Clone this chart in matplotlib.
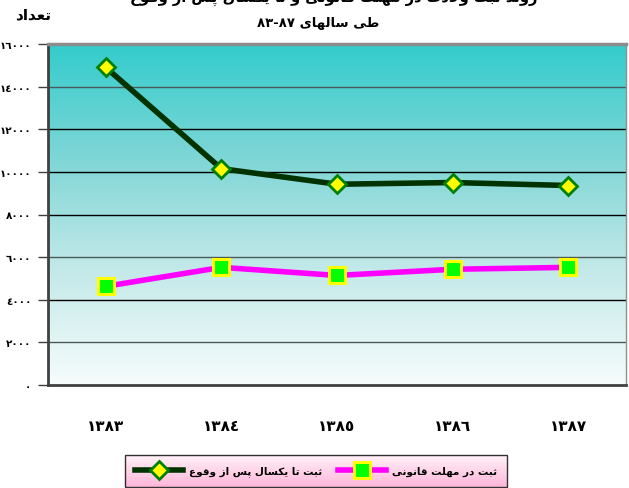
import re
import numpy as np
import matplotlib
matplotlib.use("Agg")
import matplotlib.pyplot as plt
from matplotlib.colors import LinearSegmentedColormap

years = ["١٣٨٣", "١٣٨٤", "١٣٨٥", "١٣٨٦", "١٣٨٧"]
late_year = [14900, 10150, 9420, 9500, 9360]      # ثبت تا یکسال پس از وقوع
in_time = [4630, 5520, 5140, 5430, 5520]         # ثبت در مهلت قانونی
yticks = [0, 2000, 4000, 6000, 8000, 10000, 12000, 14000, 16000]
ytick_labels = ["٠", "٢٠٠٠", "٤٠٠٠", "٦٠٠٠", "٨٠٠٠", "١٠٠٠٠", "١٢٠٠٠", "١٤٠٠٠", "١٦٠٠٠"]

label_late = "ثبت تا یکسال پس از وقوع"
label_in = "ثبت در مهلت قانونی"
title_top = "روند ثبت ولادت در مهلت قانونی و تا یکسال پس از وقوع"
title_sub = "طی سالهای ٨٧-٨٣"
ylabel = "تعداد"

# minimal arabic/persian shaping (matplotlib has no bidi/joining)
FORMS = {
    "ب": (0xFE8F, 0xFE90, 0xFE91, 0xFE92), "ت": (0xFE95, 0xFE96, 0xFE97, 0xFE98),
    "ث": (0xFE99, 0xFE9A, 0xFE9B, 0xFE9C), "س": (0xFEB1, 0xFEB2, 0xFEB3, 0xFEB4),
    "ط": (0xFEC1, 0xFEC2, 0xFEC3, 0xFEC4), "ع": (0xFEC9, 0xFECA, 0xFECB, 0xFECC),
    "ق": (0xFED5, 0xFED6, 0xFED7, 0xFED8), "ل": (0xFEDD, 0xFEDE, 0xFEDF, 0xFEE0),
    "م": (0xFEE1, 0xFEE2, 0xFEE3, 0xFEE4), "ن": (0xFEE5, 0xFEE6, 0xFEE7, 0xFEE8),
    "ه": (0xFEE9, 0xFEEA, 0xFEEB, 0xFEEC), "ی": (0xFBFC, 0xFBFD, 0xFBFE, 0xFBFF),
    "ک": (0xFB8E, 0xFB8F, 0xFB90, 0xFB91), "پ": (0xFB56, 0xFB57, 0xFB58, 0xFB59),
    "ا": (0xFE8D, 0xFE8E), "د": (0xFEA9, 0xFEAA), "ر": (0xFEAD, 0xFEAE),
    "ز": (0xFEAF, 0xFEB0), "و": (0xFEED, 0xFEEE),
    "\uFEFB": (0xFEFB, 0xFEFC),
}


def shape(text):
    chars = list(text.replace("لا", "\uFEFB"))
    out = []
    for i, c in enumerate(chars):
        if c not in FORMS:
            out.append(c)
            continue
        prev = chars[i - 1] if i > 0 else None
        nxt = chars[i + 1] if i + 1 < len(chars) else None
        jp = prev in FORMS and len(FORMS[prev]) == 4
        jn = nxt in FORMS and len(FORMS[c]) == 4
        f = FORMS[c]
        if jp and jn:
            g = f[3]
        elif jp:
            g = f[1]
        elif jn:
            g = f[2]
        else:
            g = f[0]
        out.append(chr(g))
    vis = "".join(out)[::-1]
    return re.sub("[٠-٩]+", lambda m: m.group(0)[::-1], vis)


plt.rcParams["font.family"] = ["DejaVu Sans"]
plt.rcParams["font.weight"] = "bold"

fig = plt.figure(figsize=(6.29, 4.89), dpi=100)
ax = fig.add_axes([48 / 629, 1 - 386 / 489, 578 / 629, 341 / 489])

x = np.arange(len(years))

# gradient background
bg = LinearSegmentedColormap.from_list("bg", ["#f6fcfc", "#c4e9e9", "#7fd6d6", "#33cccc"])
ax.imshow(np.linspace(0, 1, 256).reshape(-1, 1), cmap=bg, aspect="auto",
          extent=[-0.5, 4.5, 0, 16000], origin="lower", zorder=0)

for v in yticks[1:-1]:
    ax.axhline(v, color="black" if v % 4000 == 0 or v == 10000 else "#4a5a5a",
               lw=1, zorder=1)

ax.plot(x, late_year, color="#003300", lw=4, marker="D", ms=9,
        mfc="#ffff00", mec="#008000", mew=2, zorder=3, label=shape(label_late))
ax.plot(x, in_time, color="#ff00ff", lw=4, marker="s", ms=11,
        mfc="#00ff00", mec="#ffff00", mew=2.2, zorder=3, label=shape(label_in))

ax.set_xlim(-0.5, 4.5)
ax.set_ylim(0, 16000)
ax.set_xticks(x)
ax.set_xticklabels(years, fontsize=11, fontweight="bold")
ax.tick_params(axis="x", length=0, pad=24)
ax.set_yticks(yticks)
ax.set_yticklabels(ytick_labels, fontsize=7.5, fontweight="bold")
ax.tick_params(axis="y", length=7, width=1, direction="out", color="#404040", pad=5)

ax.spines["left"].set_color("#404040")
ax.spines["left"].set_linewidth(2)
ax.spines["bottom"].set_color("#404040")
ax.spines["bottom"].set_linewidth(2)
ax.spines["top"].set_color("#8c8c8c")
ax.spines["top"].set_linewidth(2.5)
ax.spines["right"].set_color("#909090")
ax.spines["right"].set_linewidth(1)

fig.text(0.53, 1 - 2 / 489, shape(title_top), ha="center", va="baseline",
         fontsize=10.5, fontweight="bold")
fig.text(318 / 629, 1 - 24 / 489, shape(title_sub), ha="center", va="center",
         fontsize=9.5, fontweight="bold")
fig.text(33 / 629, 1 - 15 / 489, shape(ylabel), ha="center", va="center",
         fontsize=11, fontweight="bold")

leg = fig.legend(loc="center", bbox_to_anchor=(316 / 629, 1 - 472 / 489), ncol=2,
                 frameon=True, fancybox=False, edgecolor="black", facecolor="none",
                 fontsize=7.5, handlelength=4.6, handletextpad=0.5, columnspacing=1.6,
                 borderpad=1.0, borderaxespad=0)
leg.get_frame().set_linewidth(1)

fig.canvas.draw()
bb = leg.get_window_extent().transformed(fig.transFigure.inverted())
lax = fig.add_axes([bb.x0, bb.y0, bb.width, bb.height], zorder=-1)
pink = LinearSegmentedColormap.from_list("pink", ["#ffb6d9", "#fff2f8"])
lax.imshow(np.linspace(0, 1, 64).reshape(-1, 1), cmap=pink, aspect="auto", origin="lower")
lax.set_axis_off()

fig.savefig("out.png", dpi=100)
